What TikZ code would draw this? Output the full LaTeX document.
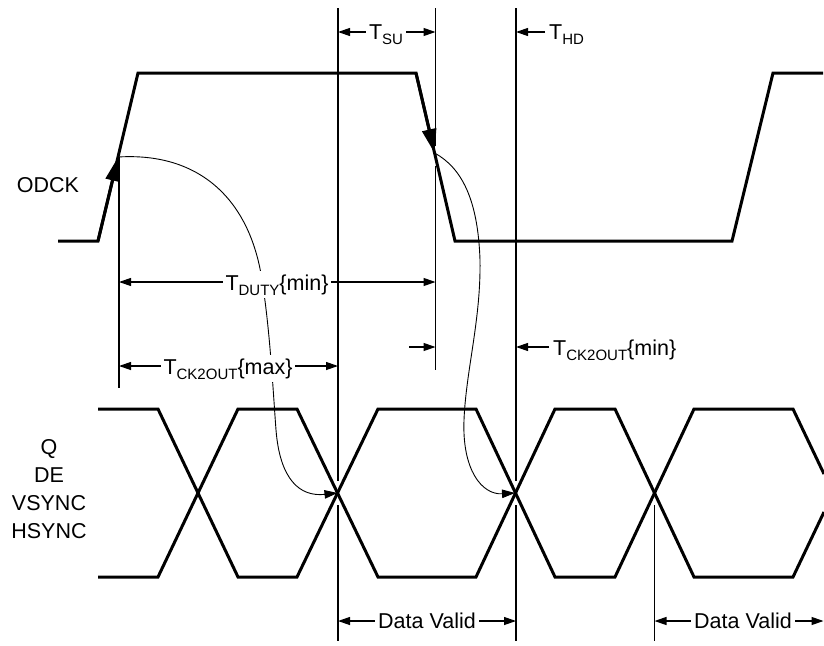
\documentclass[tikz,border=0pt]{standalone}
\usepackage{fontspec}
\setmainfont{Liberation Sans}
\usetikzlibrary{arrows.meta}
\newcommand\lbsub[1]{\raisebox{-5pt}{\fontsize{15}{15}\selectfont #1}}
\begin{document}
\begin{tikzpicture}[x=1pt,y=-1pt,
  font=\fontsize{21.5}{28}\selectfont,
  wave/.style={line width=3pt,line join=miter},
  guide/.style={line width=1.4pt},
  dim/.style={line width=1.2pt,{Triangle[length=12pt,width=8pt]}-{Triangle[length=12pt,width=8pt]}},
  arr/.style={line width=1.2pt,-{Triangle[length=12pt,width=8pt]}},
  flow/.style={line width=0.9pt,-{Triangle[length=13pt,width=8.5pt]}},
  edgearrow/.style={line width=3pt,-{Triangle[length=24pt,width=14pt]}},
  lbl/.style={fill=white,inner sep=3pt,anchor=base}]
\useasboundingbox (0,0) rectangle (824,645);

% key points
\coordinate (rise) at (118.2,157);
\coordinate (fall) at (434.6,153);
\coordinate (x1) at (337.5,493);
\coordinate (x2) at (515,493);

% guide lines
\draw[guide] (119,157) -- (119,388);
\draw[guide] (338,8) -- (338,481) (338,505) -- (338,641);
\draw[guide] (435.5,8) -- (435.5,146) (435.5,166) -- (435.5,370);
\draw[guide] (516,8) -- (516,481) (516,505) -- (516,641);
\draw[guide] (654.5,505) -- (654.5,641);

% clock
\draw[wave] (58,241) -- (98,241) -- (138,73) -- (416,73) -- (455,241) -- (732,241) -- (773,73) -- (823,73);
\draw[edgearrow] (98,241) -- (rise);
\draw[edgearrow] (416,73) -- (fall);

% data bus
\draw[wave] (98,409) -- (158,409) -- (238,577) -- (297,577) -- (378,409) -- (476,409) -- (555,577) -- (615,577) -- (694,409) -- (793,409) -- (824,474);
\draw[wave] (98,577) -- (158,577) -- (238,409) -- (297,409) -- (378,577) -- (476,577) -- (555,409) -- (615,409) -- (694,577) -- (793,577) -- (824,512);

% causal curves
\draw[flow] (rise) .. controls (200,152) and (250,200) .. (262,280)
  .. controls (270,330) and (273,390) .. (276,430)
  .. controls (280,480) and (300,497) .. (x1);
\draw[flow] (fall) .. controls (462,168) and (478,200) .. (480,260)
  .. controls (481,320) and (466,370) .. (464,420)
  .. controls (462,470) and (482,495) .. (x2);

% dimensions
\draw[dim] (338,32) -- (435.5,32);
\node[lbl] (tsu) at (386,39.5) {T\lbsub{SU}};
\draw[arr] (545,32) -- (516,32);
\node[lbl,anchor=base west] (thd) at (546,39.5) {T\lbsub{HD}};
\draw[dim] (119,282) -- (435.5,282);
\node[lbl] (tduty) at (277,290) {T\lbsub{DUTY}\{min\}};
\draw[dim] (119,366) -- (338,366);
\node[lbl] (tmax) at (228,374) {T\lbsub{CK2OUT}\{max\}};
\draw[arr] (409,347) -- (435.5,347);
\draw[arr] (549,347) -- (516,347);
\node[lbl,anchor=base west] (tmin) at (550,355) {T\lbsub{CK2OUT}\{min\}};
\draw[dim] (338,621) -- (516,621);
\node[lbl] (dv1) at (427,628) {Data Valid};
\draw[dim] (654.5,621) -- (823.5,621);
\node[lbl] (dv2) at (743,628) {Data Valid};

% signal names
\node (odck) at (48,185) {ODCK};
\node[align=center] (qlbl) at (49,489) {Q\\DE\\VSYNC\\HSYNC};
\end{tikzpicture}
\end{document}
